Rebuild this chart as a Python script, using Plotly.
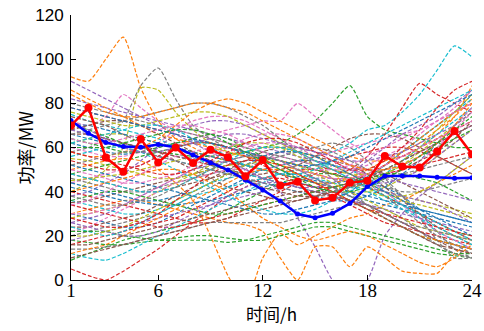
import plotly.graph_objects as go

hours = list(range(1, 25))

scenarios = [
    [62,60,58,57,58,60,62,63,62,60,57,54,50,47,45,44,45,47,50,54,58,62,66,70],
    [92,90,100,110,87,72,64,60,56,54,52,50,48,46,44,44,46,50,54,58,62,68,74,82],
    [9,12,15,18,20,22,24,26,28,32,36,40,44,46,48,48,46,42,38,34,30,26,22,20],
    [5,2,0,4,9,14,20,26,32,38,42,46,48,50,50,48,46,42,38,34,30,26,22,18],
    [68,66,64,62,60,58,56,55,54,53,50,46,40,28,15,0,-6,0,20,30,38,44,50,56],
    [48,46,44,42,40,40,42,44,46,48,48,46,44,42,40,38,36,34,30,26,22,18,16,14],
    [72,70,74,84,78,72,68,66,64,62,60,58,56,54,52,50,50,52,56,60,66,72,76,80],
    [58,60,64,72,88,96,82,70,64,60,58,56,54,52,50,48,46,44,42,40,40,42,44,46],
    [40,44,50,60,87,86,76,68,62,58,56,54,52,50,48,46,44,42,40,38,36,34,32,30],
    [36,34,32,30,30,32,36,40,44,46,48,50,52,54,56,58,62,68,70,76,84,95,106,101],
    [30,28,26,24,24,26,30,34,38,42,46,50,52,54,54,52,50,46,42,38,32,28,24,20],
    [50,52,54,55,54,50,44,36,20,2,-10,10,21,16,20,24,28,30,34,36,40,44,48,52],
    [70,68,65,62,60,58,57,56,56,57,58,60,62,66,72,80,88,74,68,66,64,62,60,60],
    [78,76,74,72,70,68,66,64,62,60,58,56,54,52,50,48,50,56,66,78,89,84,80,76],
    [26,28,30,34,38,42,46,50,52,54,56,56,54,50,46,42,38,34,30,26,22,18,16,14],
    [35,36,38,40,42,44,46,48,50,52,54,56,58,58,56,54,52,50,48,44,40,36,32,28],
    [44,46,48,50,52,56,60,64,66,68,70,72,72,80,74,68,62,58,56,56,58,62,66,70],
    [20,22,24,26,28,30,34,38,42,46,50,54,58,60,60,58,54,50,44,38,30,22,14,10],
    [55,54,52,50,48,46,46,48,50,52,52,50,48,46,44,42,40,40,42,46,50,56,62,68],
    [75,72,70,68,66,64,60,56,52,50,48,46,44,42,40,40,42,46,52,58,64,70,76,82],
    [66,64,62,60,58,56,54,52,50,48,46,44,42,40,38,36,36,38,42,48,54,62,70,78],
    [30,32,34,36,36,34,32,30,28,26,25,22,10,0,15,15,6,15,10,4,3,3,12,18],
    [18,17,16,16,17,18,19,20,20,19,18,18,20,22,24,24,22,20,18,16,14,12,11,10],
    [40,38,36,34,32,30,28,26,26,28,32,36,40,44,48,52,56,58,60,60,58,56,52,48],
    [82,80,78,76,74,72,70,68,66,64,62,60,58,56,54,52,50,48,46,44,42,40,38,36],
    [24,24,26,28,30,34,38,42,46,50,54,58,60,60,58,56,52,48,42,36,30,24,20,16],
    [60,58,56,56,58,62,68,72,74,74,72,68,64,60,56,52,50,48,48,50,54,60,68,76],
    [46,44,42,40,40,42,44,46,48,50,52,54,56,58,60,62,60,54,46,38,28,18,10,10],
    [28,30,32,34,36,40,44,48,52,56,58,60,60,58,56,52,48,44,40,36,34,32,30,28],
    [12,10,9,12,16,20,24,28,32,36,40,44,48,50,52,52,50,46,40,34,28,22,18,14],
    [52,50,48,46,44,42,40,38,36,34,32,30,30,32,34,36,40,46,52,58,64,70,76,84],
    [58,56,56,58,60,64,70,76,80,82,80,76,72,68,64,60,56,54,54,56,60,66,74,88],
    [64,62,60,58,58,60,62,64,66,64,60,56,52,48,44,40,36,32,28,24,20,18,16,14],
    [16,18,20,22,24,26,28,32,36,40,44,46,46,44,42,38,34,30,26,24,22,20,18,16],
    [38,40,44,48,54,60,66,70,72,72,70,66,62,58,54,50,46,44,44,46,50,56,62,68],
    [74,72,70,66,62,58,54,50,46,42,40,38,36,36,38,40,42,44,46,50,54,58,64,72],
    [22,24,28,32,36,40,44,46,48,50,50,50,52,54,56,58,60,62,64,66,68,72,78,86],
    [80,78,76,74,72,70,68,66,64,62,60,58,56,54,52,50,48,44,38,32,26,20,16,12],
    [45,46,47,48,50,52,54,56,58,60,62,62,60,56,52,48,44,40,38,38,40,44,50,56],
    [56,58,60,60,58,54,50,46,42,38,34,32,30,30,32,36,40,44,48,54,60,66,72,78],
    [42,40,38,36,35,34,34,35,36,38,40,42,44,44,42,40,38,36,34,32,30,28,26,24],
    [86,82,78,74,70,66,64,62,60,58,56,54,52,50,48,46,46,48,52,58,64,70,76,80],
    [48,50,52,54,56,58,60,62,62,60,58,56,54,52,50,48,46,46,48,52,56,60,64,68],
    [34,32,30,28,26,24,24,26,28,30,32,34,36,38,40,42,44,46,48,50,52,54,56,58],
    [18,20,22,24,26,28,30,32,34,36,38,40,42,44,46,46,44,42,40,38,36,34,30,26],
    [66,66,64,62,60,58,56,54,52,50,48,48,50,52,56,60,64,66,66,64,60,56,52,48],
    [50,48,46,44,44,46,48,52,56,60,64,66,66,64,60,56,52,50,50,52,56,62,70,78],
    [14,14,15,16,18,20,22,24,26,26,26,26,26,28,30,32,34,34,32,28,22,16,12,10],
    [62,64,66,66,64,62,60,58,56,54,52,50,48,46,44,42,42,44,48,52,58,64,70,76],
    [24,22,20,22,26,30,34,38,40,42,44,46,48,48,46,44,42,40,36,32,28,24,20,16],
    [70,70,68,66,64,62,60,58,56,54,52,50,48,46,44,42,40,38,36,34,32,30,28,26],
    [40,42,44,46,48,50,50,48,44,40,34,28,24,20,18,20,22,20,16,12,8,6,10,16],
    [22,22,22,20,19,18,18,18,18,17,18,20,22,24,26,26,24,22,20,18,16,14,12,12],
    [54,52,50,50,52,56,60,62,62,60,56,52,48,44,42,42,44,48,52,56,60,64,68,72],
    [90,86,82,78,74,70,66,62,58,54,50,46,44,42,42,44,48,54,60,66,70,74,80,86],
    [10,12,14,16,18,20,22,24,26,28,30,32,34,36,38,38,36,34,30,26,22,18,14,12],
    [30,30,32,34,38,42,46,50,54,58,60,62,62,60,58,54,50,46,40,34,28,22,18,14],
    [66,68,70,72,74,76,78,80,80,78,74,70,64,58,52,46,40,34,28,24,20,16,12,10],
    [76,74,72,70,70,72,74,76,76,74,70,66,62,58,54,50,48,48,50,54,60,68,76,84],
    [62,64,66,68,70,70,68,64,60,56,52,50,48,48,50,54,58,62,66,70,74,78,82,86],
    [44,42,40,38,36,36,38,40,44,48,52,56,58,58,56,52,48,44,40,36,32,30,28,26],
    [84,80,76,74,74,76,78,80,80,78,76,72,68,64,60,56,52,50,50,52,56,62,70,80],
    [36,38,40,40,38,36,34,32,30,30,32,34,36,38,40,42,44,46,48,48,46,44,40,36],
    [58,56,54,52,50,48,48,50,54,58,62,64,64,62,58,54,50,50,54,60,68,78,86,90],
    [26,24,22,20,20,22,26,30,34,38,42,44,44,42,40,38,36,34,32,30,28,26,24,22],
    [68,70,72,72,70,66,62,58,54,50,46,42,40,38,38,40,42,46,50,54,58,62,66,70],
    [34,36,40,44,48,52,56,58,60,60,58,56,54,52,50,50,52,56,60,64,68,72,76,80],
    [52,54,56,58,58,56,54,52,50,48,46,44,42,40,40,40,42,44,46,48,50,52,54,56],
    [20,20,22,24,28,32,36,40,44,48,52,54,54,52,48,44,40,36,32,28,24,22,20,18],
    [48,46,44,42,40,40,42,46,50,54,58,60,60,58,54,50,46,42,38,34,30,26,22,18],
    [78,76,74,72,70,68,66,64,62,60,58,56,54,52,52,54,56,60,64,68,72,76,80,84],
    [12,14,16,20,24,28,32,36,40,44,48,50,50,48,44,40,36,32,28,24,20,18,16,14],
    [60,60,60,62,64,66,68,68,66,62,58,54,50,46,42,40,40,42,46,50,56,62,68,74],
    [28,26,24,24,26,30,36,42,48,52,54,54,52,48,44,40,36,32,30,28,26,24,22,20],
    [72,68,64,60,58,58,60,62,64,66,66,64,62,60,58,56,54,54,56,58,62,66,70,76],
    [16,16,18,20,22,24,26,28,30,32,34,36,38,40,40,38,36,32,28,24,20,16,14,12],
    [64,62,62,64,66,68,70,70,68,66,62,58,54,50,48,46,46,48,52,56,60,64,68,72],
    [38,36,34,34,36,38,42,46,50,54,56,56,54,50,46,42,38,34,30,26,24,22,20,18],
]

red_series = [70,78,55.5,49,63.8,53.2,60,53,59,55.6,47,54.3,42.8,44.5,36,37.2,44,45,56.2,51.4,51,58.2,67.5,57]
blue_series = [72.2,66.4,62.3,60.4,60.1,61.4,60.1,56.6,53.1,49.8,45.3,40.8,35.8,29.9,28.2,30.2,34.7,42.3,47.1,47.2,47.1,46.5,46.1,46.3]

x_ticks = [1, 6, 12, 18, 24]
y_ticks = [0, 20, 40, 60, 80, 100, 120]
x_title = "时间/h"
y_title = "功率/MW"

palette = ["#1f77b4", "#ff7f0e", "#2ca02c", "#d62728", "#9467bd",
           "#8c564b", "#e377c2", "#7f7f7f", "#bcbd22", "#17becf"]

fig = go.Figure()
for i, s in enumerate(scenarios):
    fig.add_trace(go.Scatter(x=hours, y=s, mode="lines",
                             line=dict(color=palette[i % 10], width=1.2, dash="4px,2px",
                                       shape="spline", smoothing=0.6),
                             hoverinfo="skip", showlegend=False))

fig.add_trace(go.Scatter(x=hours, y=blue_series, mode="lines+markers",
                         line=dict(color="#0000ff", width=2.5),
                         marker=dict(color="#0000ff", size=5, symbol="circle"),
                         showlegend=False))
fig.add_trace(go.Scatter(x=hours, y=red_series, mode="lines+markers",
                         line=dict(color="#ff0000", width=2.5),
                         marker=dict(color="#ff0000", size=8, symbol="circle"),
                         showlegend=False))

fig.update_layout(
    width=484, height=331,
    margin=dict(l=71, r=12, t=15, b=51, autoexpand=False),
    paper_bgcolor="white", plot_bgcolor="white",
    xaxis=dict(range=[1, 24], tickvals=x_ticks, ticktext=[str(v) for v in x_ticks],
               showgrid=False, zeroline=False, showline=True, linecolor="black",
               linewidth=1, ticks="inside", ticklen=5, tickcolor="black",
               automargin=False, ticklabelstandoff=-7,
               tickfont=dict(family="Liberation Serif, serif", size=19, color="black")),
    yaxis=dict(range=[0, 120], tickvals=y_ticks,
               showgrid=False, zeroline=False, showline=True, linecolor="black",
               linewidth=1, ticks="inside", ticklen=5, tickcolor="black",
               automargin=False, ticklabelstandoff=3,
               tickfont=dict(family="Liberation Sans Narrow, Liberation Sans, sans-serif",
                             size=17, color="black")),
    annotations=[
        dict(text=x_title, xref="paper", yref="paper", x=0.5, y=-0.125,
             xanchor="center", yanchor="middle", showarrow=False,
             font=dict(family="Noto Sans CJK SC, sans-serif", size=17, color="black")),
        dict(text=y_title, xref="paper", yref="paper", x=-0.115, y=0.5,
             xanchor="center", yanchor="middle", showarrow=False, textangle=-90,
             font=dict(family="Noto Sans CJK SC, sans-serif", size=18, color="black")),
    ],
)

fig.write_html("out.html")
